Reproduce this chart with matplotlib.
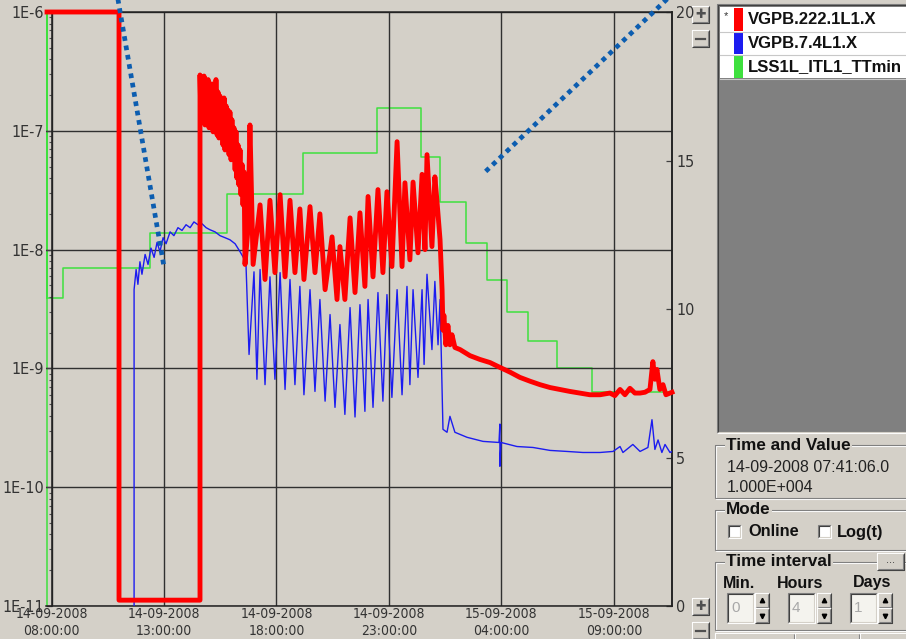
import math
import matplotlib
matplotlib.use("Agg")
import matplotlib.pyplot as plt
from matplotlib import font_manager
from matplotlib.font_manager import FontProperties
from matplotlib.patches import Rectangle
from matplotlib.ticker import LogLocator, FuncFormatter, NullFormatter, FixedLocator

# time axis: hours after 14-09-2008 08:00:00
red_t = [-0.2, 3.0, 3.0, 6.6,
         6.60, 6.64, 6.69, 6.73, 6.78, 6.82, 6.87, 6.91, 6.96, 7.00, 7.04, 7.09, 7.13, 7.18,
         7.22, 7.27, 7.31, 7.36, 7.40, 7.44, 7.49, 7.53, 7.58, 7.62, 7.67, 7.71, 7.76, 7.80,
         7.84, 7.89, 7.93, 7.98, 8.02, 8.07, 8.11, 8.16, 8.20, 8.24, 8.29, 8.33, 8.38, 8.42,
         8.47, 8.51, 8.56,
         8.60, 8.73, 8.82, 8.96, 9.27, 9.49, 9.71, 9.93, 10.16, 10.38, 10.60, 10.82, 11.04,
         11.22, 11.49, 11.71, 11.93, 12.16, 12.47, 12.69, 12.82, 13.04, 13.27, 13.49, 13.71,
         13.93, 14.07, 14.29, 14.51, 14.73, 14.91, 15.13, 15.36, 15.58, 15.71, 15.93, 16.07,
         16.29, 16.47, 16.60, 16.69, 16.91, 17.04, 17.13, 17.27, 17.36, 17.40, 17.44, 17.53,
         17.62, 17.71, 17.80, 17.93, 18.16, 18.6, 19.04, 19.49, 19.93, 20.38, 20.82, 21.27,
         21.71, 22.16, 22.6, 23.04, 23.49, 23.93, 24.38, 24.82, 25.04, 25.27, 25.49, 25.71,
         25.93, 26.16, 26.38, 26.6, 26.73, 26.82, 26.91, 27.04, 27.18, 27.31, 27.58]
red_p = [1e-6, 1e-6, 1.12e-11, 1.12e-11,
         2.95e-7, 1.28e-7, 2.7e-7, 1.19e-7, 2.89e-7, 1.12e-7, 2.48e-7, 1.24e-7, 2.7e-7,
         1.06e-7, 2.29e-7, 1.1e-7, 2.48e-7, 9.8e-8, 2.2e-7, 1.02e-7, 2.7e-7, 9.2e-8, 2.12e-7,
         8.7e-8, 1.96e-7, 9.1e-8, 1.8e-7, 7.6e-8, 1.89e-7, 6.9e-8, 1.62e-7, 7.2e-8, 1.5e-7,
         6.3e-8, 1.44e-7, 5.7e-8, 1.24e-7, 5.9e-8, 1.06e-7, 4.7e-8, 9.8e-8, 4.0e-8, 7.6e-8,
         3.5e-8, 6.9e-8, 2.9e-8, 5.2e-8, 2.38e-8, 4.5e-8,
         7.5e-9, 1.47e-8, 1.12e-7, 7.5e-9, 2.38e-8, 5.6e-9, 2.6e-8, 6.4e-9, 2.9e-8, 5.9e-9,
         2.6e-8, 6.4e-9, 2.2e-8, 5.6e-9, 2.3e-8, 6.4e-9, 2.0e-8, 4.6e-9, 1.28e-8, 3.8e-9,
         1.06e-8, 3.8e-9, 1.85e-8, 4.35e-9, 2.04e-8, 4.9e-9, 2.8e-8, 5.9e-9, 3.2e-8, 6.4e-9,
         3.07e-8, 7.2e-9, 8.1e-8, 7.2e-9, 3.65e-8, 8.2e-9, 3.7e-8, 9.4e-9, 4.3e-8, 1.0e-8,
         6.3e-8, 1.06e-8, 4.1e-8, 2.6e-8, 1.21e-8, 4.6e-9, 2.1e-9, 2.8e-9, 1.58e-9, 2.3e-9,
         1.58e-9, 1.92e-9, 1.5e-9, 1.44e-9, 1.28e-9, 1.19e-9, 1.12e-9, 1.02e-9, 9.3e-10,
         8.4e-10, 7.8e-10, 7.3e-10, 6.9e-10, 6.65e-10, 6.4e-10, 6.2e-10, 6.0e-10, 6.0e-10,
         6.2e-10, 5.9e-10, 6.65e-10, 6.0e-10, 6.8e-10, 6.2e-10, 6.2e-10, 6.3e-10, 6.65e-10,
         1.14e-9, 8.1e-10, 9.8e-10, 6.65e-10, 7.3e-10, 6.0e-10, 6.3e-10]

blue_t = [3.67, 3.67, 3.76, 3.84, 3.93, 4.02, 4.16, 4.29, 4.42, 4.56, 4.69, 4.82, 4.96, 5.09,
          5.27, 5.44, 5.62, 5.8, 5.98, 6.16, 6.33, 6.51, 6.69, 6.87, 7.04, 7.27, 7.49, 7.71,
          7.93, 8.16, 8.38, 8.51, 8.64, 8.78, 9.0, 9.13, 9.27, 9.49, 9.71, 9.93, 10.16, 10.38,
          10.6, 10.82, 11.04, 11.22, 11.49, 11.71, 11.93, 12.16, 12.38, 12.6, 12.82, 13.04,
          13.27, 13.49, 13.71, 13.93, 14.07, 14.29, 14.51, 14.73, 14.91, 15.13, 15.36, 15.58,
          15.8, 15.93, 16.07, 16.29, 16.47, 16.56, 16.69, 16.91, 17.04, 17.18, 17.27, 17.36,
          17.4, 17.58, 17.71, 17.93, 18.47, 19.18, 19.89, 19.93, 19.93, 19.98, 20.69, 21.4,
          22.16, 22.91, 23.62, 24.38, 24.96, 25.27, 25.4, 25.84, 26.16, 26.51, 26.69, 26.82,
          26.96, 27.13, 27.27, 27.49, 27.58]
blue_p = [8e-12, 4.6e-9, 6.8e-9, 5.1e-9, 7.9e-9, 6.2e-9, 9.1e-9, 7.5e-9, 1.03e-8, 8.6e-9,
          1.15e-8, 9.6e-9, 1.26e-8, 1.12e-8, 1.41e-8, 1.31e-8, 1.53e-8, 1.45e-8, 1.62e-8,
          1.53e-8, 1.71e-8, 1.62e-8, 1.65e-8, 1.53e-8, 1.47e-8, 1.41e-8, 1.31e-8, 1.26e-8,
          1.21e-8, 1.12e-8, 9.6e-9, 8.7e-9, 7.9e-9, 1.31e-9, 6.5e-9, 8.1e-10, 6.8e-9, 7.3e-10,
          5.9e-9, 8.1e-10, 6.4e-9, 6.65e-10, 5.6e-9, 7.3e-10, 4.9e-9, 6.0e-10, 4.6e-9, 6.4e-10,
          3.8e-9, 5.3e-10, 2.84e-9, 4.7e-10, 2.34e-9, 4.1e-10, 3.25e-9, 3.9e-10, 3.44e-9,
          4.35e-10, 3.8e-9, 4.7e-10, 4.35e-9, 5.3e-10, 4.18e-9, 5.7e-10, 4.6e-9, 6.0e-10,
          4.9e-9, 7.3e-10, 4.6e-9, 8.4e-10, 4.6e-9, 1.08e-9, 6.2e-9, 1.44e-9, 5.4e-9, 1.58e-9,
          3.8e-9, 6.65e-10, 3.07e-10, 2.9e-10, 3.95e-10, 2.9e-10, 2.63e-10, 2.43e-10, 2.38e-10,
          3.4e-10, 1.5e-10, 2.38e-10, 2.2e-10, 2.16e-10, 2.04e-10, 2.0e-10, 1.96e-10, 1.96e-10,
          2.0e-10, 2.2e-10, 1.96e-10, 2.29e-10, 2.0e-10, 2.16e-10, 3.7e-10, 2.08e-10, 2.5e-10,
          1.96e-10, 2.29e-10, 1.96e-10, 2.0e-10]

green_t = [-0.2, -0.2, -0.2, 0.51, 4.38, 7.8, 11.18, 14.47, 16.42, 17.27, 18.42, 19.36,
           20.24, 21.18, 22.47, 24.02, 27.58]
green_v = [-1, 21, 10.37, 11.38, 12.56, 13.87, 15.25, 16.77, 15.12, 13.6, 12.22, 10.98,
           9.9, 8.92, 8.01, 7.2, 7.2]

tick_hours = [0, 5, 10, 15, 20, 25]
tick_labels = ["14-09-2008\n08:00:00", "14-09-2008\n13:00:00", "14-09-2008\n18:00:00",
               "14-09-2008\n23:00:00", "15-09-2008\n04:00:00", "15-09-2008\n09:00:00"]
right_ticks = [0, 5, 10, 15, 20]

legend_names = ["VGPB.222.1L1.X", "VGPB.7.4L1.X", "LSS1L_ITL1_TTmin"]
legend_colors = ["#ff0000", "#1c1cf0", "#3ee03e"]

# hand drawn pointer lines on the screenshot
pointer1_t = [2.92, 5.0]
pointer1_p = [1.39e-6, 7.15e-9]
pointer2_t = [27.55, 19.27]
pointer2_p = [1.39e-6, 4.5e-8]

BG = "#d4d0c8"


def narrow_font():
    for f in font_manager.fontManager.ttflist:
        if f.name == "Liberation Sans Narrow" and f.style == "normal" and f.weight in (400, "normal", "regular"):
            return f.fname
    for f in font_manager.fontManager.ttflist:
        if "DejaVuSansCondensed.ttf" in f.fname.replace(" ", ""):
            return f.fname
    return None


NARROW_FILE = narrow_font()


def axis_fp(size):
    if NARROW_FILE:
        return FontProperties(fname=NARROW_FILE, size=size)
    return FontProperties(family="Liberation Sans", size=size * 0.86)


plt.rcParams["font.family"] = ["Liberation Sans", "DejaVu Sans"]

fig = plt.figure(figsize=(9.06, 6.39), dpi=100, facecolor=BG)

# ---- plot area ----
ax = fig.add_axes([0.05066, 0.05164, 0.69106, 0.92958])
ax2 = ax.twinx()
ax.set_zorder(2)
ax2.set_zorder(1)
ax.patch.set_visible(False)
ax2.patch.set_facecolor(BG)

ax2.plot(green_t, green_v, color=legend_colors[2], lw=1.1, drawstyle="steps-post")
ax.plot(blue_t, blue_p, color=legend_colors[1], lw=1.0, zorder=3)
ax.plot(red_t, red_p, color=legend_colors[0], lw=3.5, zorder=4, clip_on=False)

ax.plot(pointer1_t, pointer1_p, color="#0c5db0", lw=3.4, ls=(0, (1, 1)),
        dash_capstyle="butt", clip_on=False, zorder=10)
ax.plot(pointer2_t, pointer2_p, color="#0c5db0", lw=3.4, ls=(0, (1, 1)),
        dash_capstyle="butt", clip_on=False, zorder=10)

ax.set_yscale("log")
ax.set_ylim(1e-11, 1e-6)
ax.set_xlim(-0.25, 27.58)
ax2.set_ylim(0, 20)

ax.yaxis.set_major_locator(LogLocator(base=10, numticks=10))
ax.yaxis.set_minor_locator(LogLocator(base=10, subs=range(2, 10), numticks=10))
ax.yaxis.set_minor_formatter(NullFormatter())
ax.yaxis.set_major_formatter(FuncFormatter(lambda v, p: "1E%d" % round(math.log10(v))))
ax.set_xticks(tick_hours)
ax.set_xticklabels(tick_labels)
ax2.yaxis.set_major_locator(FixedLocator(right_ticks))

ax.spines["left"].set_position(("data", 0))
for s in ax.spines.values():
    s.set_color("#202020")
    s.set_linewidth(1.1)
for name in ["left", "top", "bottom"]:
    ax2.spines[name].set_visible(False)
ax2.spines["right"].set_color("#202020")
ax2.spines["right"].set_linewidth(1.1)

ax.set_axisbelow(True)
ax.grid(True, which="major", color="#303030", lw=1.0)

ax.tick_params(axis="y", which="major", direction="out", length=4, width=0.9,
               color="#404040", pad=1.5, labelcolor="#333333")
ax.tick_params(axis="y", which="minor", direction="out", length=2.2, width=0.8,
               color="#505050")
ax.tick_params(axis="y", right=False, which="both")
ax.tick_params(axis="x", length=0, pad=0.5, labelcolor="#333333")
ax2.tick_params(axis="y", direction="in", length=4.5, width=0.9, color="#404040",
                pad=3, labelcolor="#333333")
for lbl in ax.get_xticklabels():
    lbl.set_fontproperties(axis_fp(10))
    lbl.set_linespacing(1.3)
for lbl in ax.get_yticklabels():
    lbl.set_fontproperties(axis_fp(11.5))
for lbl in ax2.get_yticklabels():
    lbl.set_fontproperties(axis_fp(11.5))

# ---- window controls ----
ui = fig.add_axes([0, 0, 1, 1])
ui.set_zorder(0)
ui.set_xlim(0, 906)
ui.set_ylim(639, 0)
ui.axis("off")


def edge(x, y, w, h, tl, br):
    ui.plot([x, x, x + w], [y + h, y, y], color=tl, lw=0.8, solid_capstyle="butt")
    ui.plot([x, x + w, x + w], [y + h, y + h, y], color=br, lw=0.8, solid_capstyle="butt")


def button(x, y, w, h):
    ui.add_patch(Rectangle((x, y), w, h, fc=BG, ec="none"))
    edge(x, y, w, h, "white", "#404040")
    edge(x + 1, y + 1, w - 2, h - 2, BG, "#808080")


def sunken(x, y, w, h, face):
    ui.add_patch(Rectangle((x, y), w, h, fc=face, ec="none"))
    edge(x, y, w, h, "#808080", "white")
    edge(x + 1, y + 1, w - 2, h - 2, "#404040", BG)


def group(x, y, w, h, title):
    ui.add_patch(Rectangle((x + 1, y + 1), w, h, fc="none", ec="white", lw=0.8))
    ui.add_patch(Rectangle((x, y), w, h, fc="none", ec="#808080", lw=0.8))
    ui.text(x + 11, y, title, fontsize=12.3, fontweight="bold", va="center", ha="left",
            color="#111111", bbox=dict(fc=BG, ec="none", pad=1))


# zoom buttons
for by in [6, 598]:
    button(692, by, 17, 17)
    ui.text(700.5, by + 8.5, "\u271a", fontsize=9, color="#505050", ha="center", va="center",
            family="DejaVu Sans")
    button(692, by + 24, 17, 17)
    ui.plot([696, 705], [by + 32.5, by + 32.5], color="#505050", lw=1.6)

# trace list
sunken(717, 4, 195, 429, "#808080")
ui.add_patch(Rectangle((720, 7), 190, 71, fc="white", ec="none"))
for i, (name, col) in enumerate(zip(legend_names, legend_colors)):
    top = 8 + i * 23.5
    ui.add_patch(Rectangle((734, top), 9, 22.5, fc=col, ec="none"))
    ui.text(748, top + 11.5, name, fontsize=12, fontweight="bold", va="center", ha="left",
            color="#111111")
    ui.plot([720, 910], [top + 23.5, top + 23.5], color="#c8c8c8", lw=0.8)
ui.text(726, 16, "*", fontsize=8, ha="center", va="center", color="#333333")

group(715, 445, 200, 53, "Time and Value")
ui.text(727, 467, "14-09-2008 07:41:06.0", fontsize=11.5, va="center", color="#222222")
ui.text(727, 487, "1.000E+004", fontsize=11.5, va="center", color="#222222")

group(715, 510, 200, 40, "Mode")
sunken(728, 525, 13, 13, "white")
ui.text(748, 532, "Online", fontsize=11.8, fontweight="bold", va="center", color="#111111")
sunken(818, 525, 13, 13, "white")
ui.text(837, 532, "Log(t)", fontsize=11.8, fontweight="bold", va="center", color="#111111")

group(715, 562, 200, 68, "Time interval")
button(877, 553, 27, 17)
ui.text(890.5, 560, "...", fontsize=8, ha="center", va="center", color="#333333")
for lx, txt in [(723, "Min."), (777, "Hours"), (853, "Days")]:
    ui.text(lx, 583, txt, fontsize=11.5, fontweight="bold", va="center", color="#111111")
for ex, sx, val in [(727, 755, "0"), (788, 817, "4"), (850, 878, "1")]:
    sunken(ex, 593, 27, 30, "#f4f3ee")
    ui.text(ex + 4, 608, val, fontsize=11, va="center", color="#a8a8a8")
    button(sx, 593, 14, 15)
    button(sx, 608, 14, 15)
    ui.plot([sx + 7], [600], marker="^", ms=3.2, color="black")
    ui.plot([sx + 7], [616], marker="v", ms=3.2, color="black")

for bx, bw in [(715, 80), (795, 65), (860, 50)]:
    button(bx, 633, bw, 14)

fig.savefig("out.png", dpi=100, facecolor=BG)
